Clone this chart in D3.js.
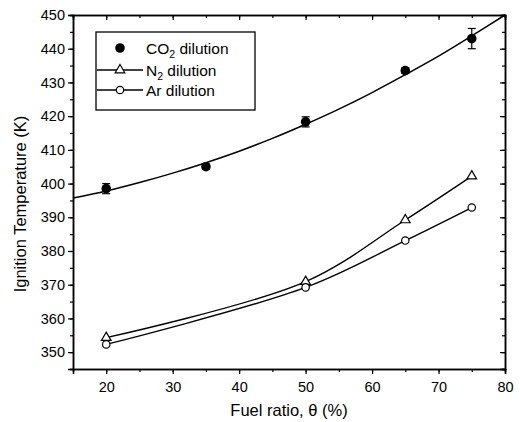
<!DOCTYPE html>
<html>
<head>
<meta charset="utf-8">
<script src="https://cdn.jsdelivr.net/npm/d3@7"></script>
<style>
  body { margin: 0; background: #fff; }
  svg text { font-family: "Liberation Sans", Arial, sans-serif; fill: #000; }
</style>
</head>
<body>
<div id="chart"></div>
<script>
// datos
const fuelRatio = [20, 35, 50, 65, 75];
const co2Temp = [398.5, 405, 418.3, 433.5, 443];
const co2Err = [1.5, 0.8, 1.5, 0.8, 3];

const n2Ratio = [20, 50, 65, 75];
const n2Temp = [354.3, 370.9, 389.2, 402.2];
const arRatio = [20, 50, 65, 75];
const arTemp = [352.3, 369.2, 383.1, 392.9];

// curva de ajuste CO2
const fitRatio = [15, 20, 25, 30, 35, 40, 45, 50, 55, 60, 65, 70, 75, 80];
const fitTemp = [395.7, 397.8, 400.3, 403.1, 406.2, 409.6, 413.4, 417.6, 422.1, 427.0, 432.3, 437.8, 443.8, 450];

const xTicks = [20, 30, 40, 50, 60, 70, 80];
const yTicks = [350, 360, 370, 380, 390, 400, 410, 420, 430, 440, 450];

const margin = {top: 15, right: 15, bottom: 53, left: 73},
    width = 520 - margin.left - margin.right,
    height = 422 - margin.top - margin.bottom;

const svg = d3.select("#chart")
    .append("svg")
        .attr("width", 520)
        .attr("height", 422)
    .append("g")
        .attr("transform", "translate(" + margin.left + "," + margin.top + ")");

const x = d3.scaleLinear().domain([15, 80]).range([0, width]);
const y = d3.scaleLinear().domain([345, 450]).range([height, 0]);

const minorX = d3.range(15, 81, 5);
const minorY = d3.range(345, 451, 5);

// ejes
function styleAxis(g) {
    g.select(".domain").attr("stroke", "#000").attr("stroke-width", 1.5);
    g.selectAll(".tick line").attr("stroke", "#000").attr("stroke-width", 1.2);
    g.selectAll(".tick text").attr("font-size", 14.5).attr("fill", "#000");
}

svg.append("g").attr("transform", "translate(0," + height + ")")
    .call(d3.axisBottom(x).tickValues(minorX).tickSize(3).tickFormat(""))
    .call(styleAxis);
svg.append("g").attr("transform", "translate(0," + height + ")")
    .call(d3.axisBottom(x).tickValues(xTicks).tickSize(5).tickPadding(8).tickFormat(d3.format("d")))
    .call(styleAxis);

svg.append("g")
    .call(d3.axisTop(x).tickValues(minorX).tickSize(-3).tickFormat(""))
    .call(styleAxis);
svg.append("g")
    .call(d3.axisTop(x).tickValues(xTicks).tickSize(-5).tickFormat(""))
    .call(styleAxis);

svg.append("g")
    .call(d3.axisLeft(y).tickValues(minorY).tickSize(3).tickFormat(""))
    .call(styleAxis);
svg.append("g")
    .call(d3.axisLeft(y).tickValues(yTicks).tickSize(5).tickPadding(3).tickFormat(d3.format("d")))
    .call(styleAxis);

svg.append("g").attr("transform", "translate(" + width + ",0)")
    .call(d3.axisRight(y).tickValues(minorY).tickSize(-3).tickFormat(""))
    .call(styleAxis);
svg.append("g").attr("transform", "translate(" + width + ",0)")
    .call(d3.axisRight(y).tickValues(yTicks).tickSize(-5).tickFormat(""))
    .call(styleAxis);

// titulos
svg.append("text")
    .attr("x", width / 2)
    .attr("y", height + 47)
    .attr("text-anchor", "middle")
    .attr("font-size", 16.5)
    .text("Fuel ratio, \u03b8 (%)");

svg.append("text")
    .attr("transform", "translate(" + (-47) + "," + (height / 2 + 12) + ") rotate(-90)")
    .attr("text-anchor", "middle")
    .attr("font-size", 16.5)
    .text("Ignition Temperature (K)");

// lineas
const line = d3.line()
    .x(function(d) { return x(d[0]); })
    .y(function(d) { return y(d[1]); });

svg.append("path")
    .datum(d3.zip(fitRatio, fitTemp))
    .attr("fill", "none")
    .attr("stroke", "#000")
    .attr("stroke-width", 1.5)
    .attr("d", line.curve(d3.curveCatmullRom));

svg.append("path")
    .datum(d3.zip(n2Ratio, n2Temp))
    .attr("fill", "none")
    .attr("stroke", "#000")
    .attr("stroke-width", 1.4)
    .attr("d", line.curve(d3.curveCatmullRom.alpha(0.5)));

svg.append("path")
    .datum(d3.zip(arRatio, arTemp))
    .attr("fill", "none")
    .attr("stroke", "#000")
    .attr("stroke-width", 1.4)
    .attr("d", line.curve(d3.curveCatmullRom.alpha(0.5)));

// barras de error CO2
const err = svg.append("g").selectAll("g")
    .data(d3.zip(fuelRatio, co2Temp, co2Err))
    .enter().append("g");
err.append("line")
    .attr("x1", function(d) { return x(d[0]); })
    .attr("x2", function(d) { return x(d[0]); })
    .attr("y1", function(d) { return y(d[1] - d[2]); })
    .attr("y2", function(d) { return y(d[1] + d[2]); })
    .attr("stroke", "#000").attr("stroke-width", 1.2);
[1, -1].forEach(function(s) {
    err.append("line")
        .attr("x1", function(d) { return x(d[0]) - 4; })
        .attr("x2", function(d) { return x(d[0]) + 4; })
        .attr("y1", function(d) { return y(d[1] + s * d[2]); })
        .attr("y2", function(d) { return y(d[1] + s * d[2]); })
        .attr("stroke", "#000").attr("stroke-width", 1.2);
});

// marcadores
svg.append("g").selectAll("circle")
    .data(d3.zip(fuelRatio, co2Temp))
    .enter().append("circle")
    .attr("cx", function(d) { return x(d[0]); })
    .attr("cy", function(d) { return y(d[1]); })
    .attr("r", 4.8)
    .attr("fill", "#000");

const tri = d3.symbol().type(d3.symbolTriangle).size(40);
svg.append("g").selectAll("path")
    .data(d3.zip(n2Ratio, n2Temp))
    .enter().append("path")
    .attr("transform", function(d) { return "translate(" + x(d[0]) + "," + y(d[1]) + ")"; })
    .attr("d", tri)
    .attr("fill", "#fff")
    .attr("stroke", "#000")
    .attr("stroke-width", 1.2);

svg.append("g").selectAll("circle")
    .data(d3.zip(arRatio, arTemp))
    .enter().append("circle")
    .attr("cx", function(d) { return x(d[0]); })
    .attr("cy", function(d) { return y(d[1]); })
    .attr("r", 3.7)
    .attr("fill", "#fff")
    .attr("stroke", "#000")
    .attr("stroke-width", 1.2);

// leyenda
const legend = svg.append("g").attr("transform", "translate(23,17)");
legend.append("rect")
    .attr("width", 159).attr("height", 78)
    .attr("fill", "#fff").attr("stroke", "#000").attr("stroke-width", 1.3);

const items = [
    {base: "CO", sub: "2", rest: " dilution", mark: "filled"},
    {base: "N", sub: "2", rest: " dilution", mark: "tri"},
    {base: "Ar dilution", sub: "", rest: "", mark: "open"}
];
const rowY = [16, 38, 58];

items.forEach(function(it, i) {
    const cy = rowY[i];
    if (it.mark !== "filled") {
        legend.append("line")
            .attr("x1", 1).attr("x2", 47).attr("y1", cy).attr("y2", cy)
            .attr("stroke", "#000").attr("stroke-width", 1.3);
    }
    if (it.mark === "filled") {
        legend.append("circle").attr("cx", 24).attr("cy", cy).attr("r", 4.8).attr("fill", "#000");
    } else if (it.mark === "tri") {
        legend.append("path").attr("transform", "translate(24," + cy + ")").attr("d", tri)
            .attr("fill", "#fff").attr("stroke", "#000").attr("stroke-width", 1.2);
    } else {
        legend.append("circle").attr("cx", 24).attr("cy", cy).attr("r", 3.7)
            .attr("fill", "#fff").attr("stroke", "#000").attr("stroke-width", 1.2);
    }
    const t = legend.append("text")
        .attr("x", 50).attr("y", cy + 5.5)
        .attr("font-size", 15.5);
    t.append("tspan").text(it.base);
    if (it.sub) {
        t.append("tspan").attr("dy", 4).attr("font-size", 10.5).text(it.sub);
        t.append("tspan").attr("dy", -4).text(it.rest);
    }
});
</script>
</body>
</html>
